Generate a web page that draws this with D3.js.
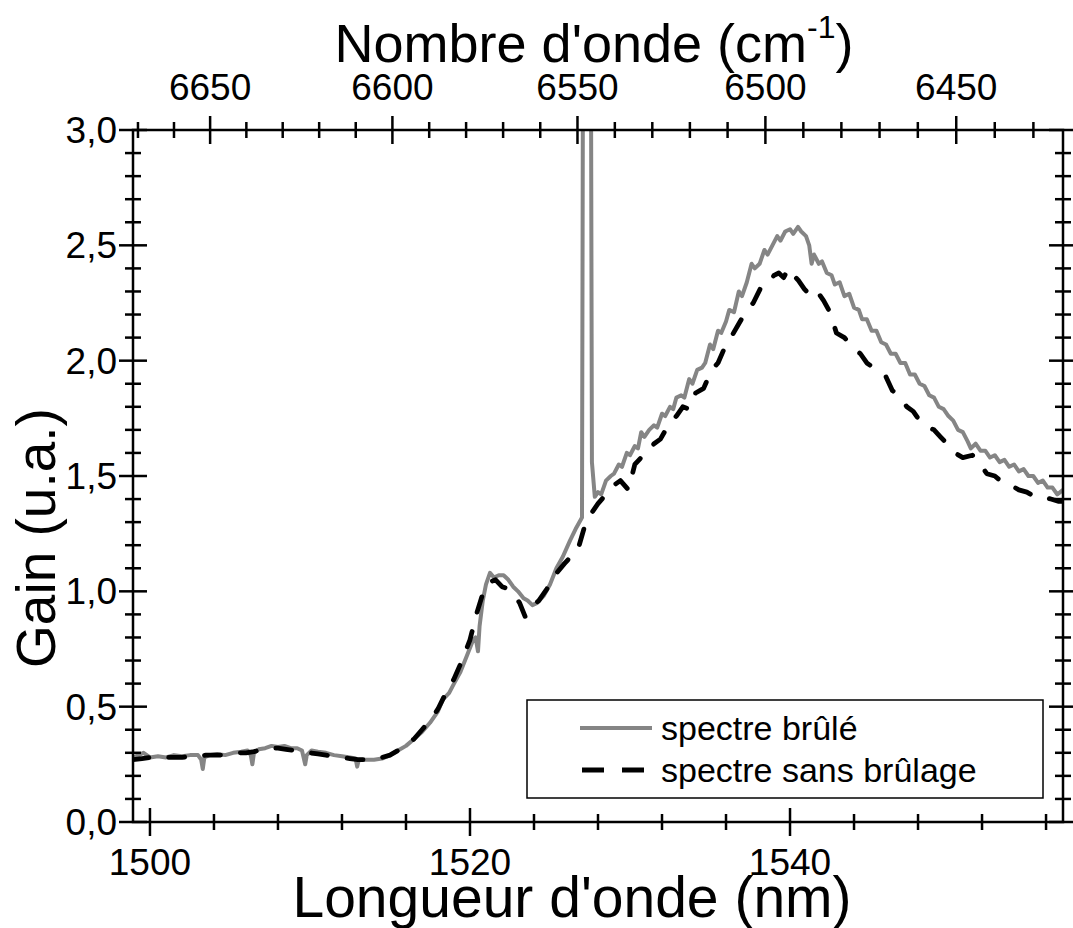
<!DOCTYPE html>
<html><head><meta charset="utf-8">
<script src="https://cdn.jsdelivr.net/npm/d3@7"></script>
<style>
html,body{margin:0;padding:0;background:#fff;}
svg{display:block;font-family:"Liberation Sans",Arial,sans-serif;}
</style></head>
<body><svg id="c" width="1073" height="928"></svg>
<script>
// ---- data ----
const wlBrule = [1498.94,1499.3,1499.6,1500.0,1500.5,1501.0,1501.5,1502.0,1502.5,1503.0,1503.2,1503.3,1503.4,1503.7,1504.2,1504.7,1505.2,1505.7,1506.1,1506.3,1506.4,1506.5,1506.8,1507.2,1507.6,1508.0,1508.4,1508.8,1509.2,1509.5,1509.6,1509.7,1509.8,1510.1,1510.5,1511.0,1511.5,1512.0,1512.5,1512.85,1512.95,1513.05,1513.5,1514.0,1514.5,1515.0,1515.5,1516.0,1516.5,1517.0,1517.5,1518.0,1518.3,1518.7,1519.0,1519.4,1519.8,1520.2,1520.35,1520.5,1520.6,1520.8,1521.0,1521.25,1521.5,1521.8,1522.1,1522.4,1522.7,1523.0,1523.35,1523.6,1523.9,1524.2,1524.6,1525.0,1525.4,1525.8,1526.25,1526.6,1527.0,1527.06,1527.56,1527.62,1527.8,1528.0,1528.2,1528.5,1528.8,1529.0,1529.3,1529.5,1529.8,1530.0,1530.3,1530.5,1530.7,1530.9,1531.2,1531.5,1531.7,1532.0,1532.2,1532.5,1532.7,1532.9,1533.2,1533.4,1533.7,1533.9,1534.2,1534.5,1534.7,1535.0,1535.2,1535.5,1535.7,1536.0,1536.2,1536.5,1536.8,1537.0,1537.3,1537.6,1537.8,1538.1,1538.4,1538.6,1538.9,1539.2,1539.4,1539.7,1540.0,1540.2,1540.5,1540.7,1541.0,1541.2,1541.35,1541.5,1541.8,1542.0,1542.3,1542.6,1542.8,1543.1,1543.4,1543.7,1544.0,1544.3,1544.5,1544.8,1545.1,1545.4,1545.7,1546.0,1546.3,1546.6,1546.9,1547.2,1547.5,1547.8,1548.1,1548.4,1548.7,1549.0,1549.3,1549.6,1549.9,1550.2,1550.5,1550.8,1551.1,1551.3,1551.6,1551.9,1552.2,1552.5,1552.8,1553.1,1553.4,1553.7,1554.0,1554.3,1554.6,1554.9,1555.2,1555.5,1555.8,1556.1,1556.4,1556.7,1557.06];
const gainBrule = [0.28,0.29,0.30,0.28,0.285,0.28,0.29,0.285,0.29,0.29,0.27,0.23,0.28,0.29,0.295,0.29,0.30,0.305,0.31,0.29,0.25,0.30,0.315,0.32,0.33,0.325,0.33,0.32,0.32,0.31,0.28,0.25,0.29,0.31,0.305,0.30,0.29,0.285,0.28,0.275,0.24,0.27,0.27,0.27,0.275,0.29,0.31,0.33,0.36,0.39,0.43,0.48,0.53,0.56,0.60,0.65,0.72,0.79,0.80,0.74,0.85,0.96,1.03,1.08,1.06,1.07,1.07,1.05,1.02,1.00,0.97,0.96,0.94,0.95,0.98,1.03,1.10,1.15,1.22,1.27,1.32,3.3,3.3,1.56,1.41,1.43,1.42,1.48,1.50,1.51,1.55,1.54,1.60,1.59,1.63,1.62,1.69,1.67,1.70,1.72,1.71,1.77,1.76,1.80,1.79,1.84,1.85,1.84,1.92,1.90,1.96,1.97,1.99,2.07,2.05,2.13,2.12,2.17,2.22,2.21,2.30,2.28,2.34,2.42,2.40,2.42,2.48,2.46,2.50,2.54,2.52,2.56,2.57,2.55,2.58,2.56,2.54,2.50,2.42,2.46,2.42,2.43,2.38,2.37,2.33,2.34,2.28,2.29,2.23,2.22,2.18,2.18,2.13,2.13,2.08,2.07,2.03,2.03,1.99,1.99,1.94,1.94,1.90,1.89,1.85,1.84,1.80,1.79,1.76,1.74,1.70,1.69,1.65,1.62,1.64,1.61,1.61,1.58,1.59,1.56,1.57,1.54,1.55,1.52,1.53,1.50,1.50,1.47,1.48,1.45,1.45,1.42,1.44];

const wlSans = [1498.94,1499.5,1500.0,1500.5,1501.0,1501.5,1502.0,1502.5,1503.0,1503.5,1504.0,1504.5,1505.0,1505.5,1506.0,1506.5,1507.0,1507.5,1508.0,1508.5,1509.0,1509.5,1510.0,1510.5,1511.0,1511.5,1512.0,1512.5,1513.0,1513.5,1514.0,1514.5,1515.0,1515.5,1516.0,1516.5,1517.0,1517.5,1518.0,1518.5,1519.0,1519.5,1520.0,1520.4,1520.8,1521.2,1521.6,1522.0,1522.4,1522.8,1523.1,1523.45,1523.8,1524.3,1524.8,1525.3,1525.9,1526.3,1526.7,1527.2,1527.6,1528.0,1528.5,1529.0,1529.4,1529.9,1530.3,1530.7,1531.1,1531.5,1531.9,1532.4,1532.9,1533.3,1533.7,1534.1,1534.6,1535.1,1535.5,1536.0,1536.3,1536.8,1537.3,1537.7,1538.2,1538.6,1539.0,1539.3,1539.6,1539.9,1540.2,1540.5,1540.9,1541.3,1541.7,1542.1,1542.5,1542.9,1543.4,1543.9,1544.4,1544.8,1545.2,1545.6,1546.0,1546.4,1546.8,1547.3,1547.7,1548.1,1548.6,1549.0,1549.4,1549.8,1550.3,1550.8,1551.4,1551.9,1552.3,1552.8,1553.3,1553.8,1554.3,1554.8,1555.3,1555.8,1556.3,1556.8,1557.06];
const gainSans = [0.27,0.275,0.28,0.275,0.28,0.28,0.28,0.285,0.285,0.29,0.29,0.29,0.295,0.30,0.30,0.305,0.315,0.32,0.32,0.315,0.31,0.305,0.30,0.295,0.29,0.285,0.28,0.275,0.27,0.27,0.27,0.28,0.29,0.31,0.33,0.36,0.40,0.44,0.49,0.56,0.62,0.70,0.79,0.90,0.99,1.04,1.05,1.02,1.01,0.98,0.95,0.89,0.93,0.96,1.01,1.07,1.12,1.15,1.17,1.29,1.34,1.38,1.42,1.46,1.48,1.44,1.55,1.58,1.60,1.64,1.66,1.72,1.76,1.80,1.79,1.86,1.88,1.96,1.99,2.07,2.10,2.16,2.22,2.25,2.32,2.33,2.37,2.38,2.36,2.40,2.37,2.35,2.31,2.28,2.30,2.26,2.21,2.12,2.10,2.06,2.03,1.99,1.97,1.95,1.93,1.87,1.85,1.80,1.78,1.74,1.71,1.70,1.67,1.64,1.60,1.58,1.59,1.55,1.51,1.50,1.47,1.46,1.44,1.43,1.41,1.41,1.40,1.39,1.39];

const seriesNames = ["spectre brûlé", "spectre sans brûlage"];
const xMajorTicks = [1500, 1520, 1540];
const xMinorTicks = d3.range(1500, 1557, 4);
const yMajorTicks = [0, 0.5, 1.0, 1.5, 2.0, 2.5, 3.0];
const yTickLabels = ["0,0", "0,5", "1,0", "1,5", "2,0", "2,5", "3,0"];
const yMinorTicks = d3.range(0, 3.001, 0.1);
const topMajorTicks = [6650, 6600, 6550, 6500, 6450];
const topMinorTicks = d3.range(6430, 6671, 10);

// ---- layout ----
const L = 133, R = 1063, T = 130, B = 822;
const x = d3.scaleLinear().domain([1498.94, 1557.06]).range([L, R]);
const y = d3.scaleLinear().domain([0, 3]).range([B, T]);
const xw = k => x(1e7 / k); // wavenumber (cm-1) -> px

const svg = d3.select("#c");
svg.append("defs").append("clipPath").attr("id", "clip")
  .append("rect").attr("x", L).attr("y", T).attr("width", R - L).attr("height", B - T);

const line = d3.line().x(d => x(d[0])).y(d => y(d[1]));
const dBrule = wlBrule.map((w, i) => [w, gainBrule[i]]);
const dSans = wlSans.map((w, i) => [w, gainSans[i]]);
const grey = "#858585";

const plot = svg.append("g").attr("clip-path", "url(#clip)");
plot.append("path").datum(dBrule).attr("d", line)
  .attr("fill", "none").attr("stroke", grey).attr("stroke-width", 4).attr("stroke-linejoin", "round");
plot.append("path").datum(dSans).attr("d", line)
  .attr("fill", "none").attr("stroke", "#000").attr("stroke-width", 4.8)
  .attr("stroke-dasharray", "16,20").attr("stroke-linecap", "round").attr("stroke-linejoin", "round");

// ---- axes frame ----
const ax = svg.append("g").attr("stroke", "#000").attr("stroke-width", 2.5).attr("fill", "none");
ax.append("rect").attr("x", L).attr("y", T).attr("width", R - L).attr("height", B - T);

const MJ = 14, MN = 8;
// bottom
xMinorTicks.forEach(v => {
  const s = xMajorTicks.includes(v) ? MJ : MN;
  ax.append("line").attr("x1", x(v)).attr("x2", x(v)).attr("y1", B - s).attr("y2", B + s);
});
// top (wavenumber)
topMinorTicks.forEach(k => {
  const s = topMajorTicks.includes(k) ? MJ : MN;
  ax.append("line").attr("x1", xw(k)).attr("x2", xw(k)).attr("y1", T - s).attr("y2", T + s);
});
// left & right
yMinorTicks.forEach(v => {
  const vv = Math.round(v * 10) / 10;
  const s = yMajorTicks.some(t => Math.abs(t - vv) < 1e-6) ? MJ : MN;
  ax.append("line").attr("x1", L - s).attr("x2", L + s).attr("y1", y(vv)).attr("y2", y(vv));
  ax.append("line").attr("x1", R - s).attr("x2", R + s).attr("y1", y(vv)).attr("y2", y(vv));
});

// ---- labels ----
const tfs = 37;
const lab = svg.append("g").attr("fill", "#000");
xMajorTicks.forEach(v => lab.append("text").attr("x", x(v)).attr("y", 875)
  .attr("text-anchor", "middle").attr("font-size", tfs).text(v));
topMajorTicks.forEach(k => lab.append("text").attr("x", xw(k)).attr("y", 100)
  .attr("text-anchor", "middle").attr("font-size", tfs).text(k));
yMajorTicks.forEach((v, i) => lab.append("text").attr("x", 117).attr("y", y(v) + 13)
  .attr("text-anchor", "end").attr("font-size", tfs).text(yTickLabels[i]));

const tt = lab.append("text").attr("x", 594).attr("y", 62).attr("text-anchor", "middle").attr("font-size", 54);
tt.append("tspan").text("Nombre d'onde (cm");
tt.append("tspan").attr("font-size", 32).attr("dy", -24).text("-1");
tt.append("tspan").attr("dy", 24).text(")");

lab.append("text").attr("x", 572).attr("y", 917).attr("text-anchor", "middle").attr("font-size", 57)
  .text("Longueur d'onde (nm)");
lab.append("text").attr("transform", "translate(55,538) rotate(-90)").attr("text-anchor", "middle")
  .attr("font-size", 55).text("Gain (u.a.)");

// ---- legend ----
const lg = svg.append("g");
lg.append("rect").attr("x", 527).attr("y", 700).attr("width", 516).attr("height", 98)
  .attr("fill", "#fff").attr("stroke", "#000").attr("stroke-width", 1.5);
lg.append("line").attr("x1", 580).attr("x2", 652).attr("y1", 728).attr("y2", 728)
  .attr("stroke", grey).attr("stroke-width", 4);
lg.append("line").attr("x1", 582).attr("x2", 654).attr("y1", 770).attr("y2", 770)
  .attr("stroke", "#000").attr("stroke-width", 5).attr("stroke-dasharray", "22,18");
lg.append("text").attr("x", 661).attr("y", 740).attr("font-size", 34).text(seriesNames[0]);
lg.append("text").attr("x", 661).attr("y", 782).attr("font-size", 34).text(seriesNames[1]);
</script></body></html>
